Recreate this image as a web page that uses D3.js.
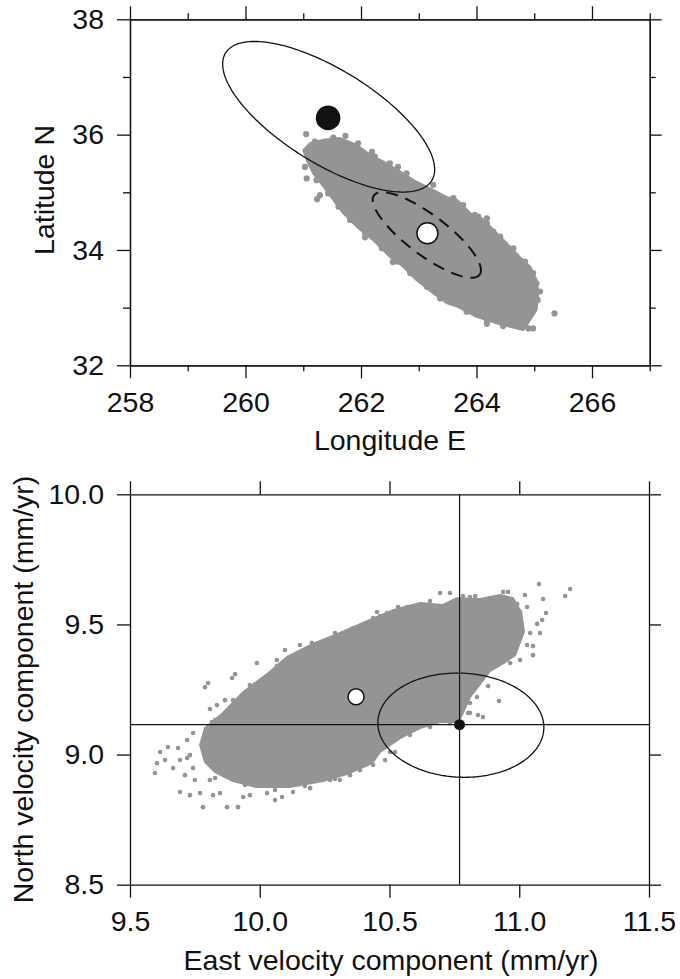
<!DOCTYPE html>
<html><head><meta charset="utf-8">
<script src="https://cdn.jsdelivr.net/npm/d3@7"></script>
<style>
body{margin:0;background:#fff}
svg{display:block}
text{font-family:"Liberation Sans",Arial,Helvetica,sans-serif;fill:#111}
</style>
</head><body>
<svg id="c" width="680" height="979"></svg>
<script>
// ---------- DATA ----------
// Top panel (Longitude / Latitude)
const topXMajor = [258, 260, 262, 264, 266];
const topXMinor = [259, 261, 263, 265, 267];
const topYMajor = [32, 34, 36, 38];
const topYMinor = [33, 35, 37];
// outline of dense sample cloud (lon, lat)
const topCloudOutline = [[261.00,35.73],[261.12,35.85],[261.35,35.91],[261.64,35.94],[261.93,35.82],[262.16,35.65],[262.39,35.53],[262.68,35.36],[262.91,35.21],[263.19,35.07],[263.48,34.92],[263.66,34.87],[263.89,34.64],[264.09,34.55],[264.29,34.35],[264.52,34.12],[264.75,33.88],[264.93,33.71],[265.04,33.48],[265.07,33.25],[265.04,32.96],[264.93,32.79],[264.81,32.61],[264.58,32.67],[264.35,32.73],[264.00,32.84],[263.66,33.02],[263.48,33.08],[263.25,33.25],[262.96,33.48],[262.73,33.71],[262.50,33.88],[262.21,34.17],[261.93,34.40],[261.69,34.64],[261.52,34.87],[261.35,35.10],[261.17,35.33],[261.06,35.56]];
// individual samples along the cloud edge
const topCloudDots = [[261.05,36.01],[261.06,35.24],[261.24,34.88],[261.29,34.95],[265.35,32.90],[264.90,32.64],[264.98,32.64],[265.10,33.28],[265.04,33.42],[265.06,33.13],[264.18,32.72],[263.28,33.35],[264.03,34.58],[264.18,34.55],[264.29,34.32],[261.73,35.98],[262.19,35.70],[262.64,35.44],[262.07,34.22],[262.55,33.79],
[261.20,35.88],[261.52,35.95],[261.95,35.85],[262.24,35.62],[262.50,35.50],[262.79,35.33],[263.25,35.13],[263.60,34.90],[263.77,34.78],[263.97,34.61],[264.18,34.46],[264.41,34.23],[264.64,34.03],[264.84,33.80],[264.98,33.60],
[261.03,35.44],[261.23,35.21],[261.43,34.98],[261.61,34.75],[261.81,34.52],[262.07,34.29],[262.36,34.03],[262.62,33.80],[262.85,33.60],[263.14,33.36],[263.37,33.16],[263.83,32.93],[264.18,32.76],[264.46,32.68]];
// ellipses: [centerLon, centerLat, semiMajor, semiMinor, angleDeg]
const topSolidEllipse = [261.44, 36.31, 2.10, 0.815, -31.8];
const topDashedEllipse = [263.14, 34.26, 1.144, 0.347, -37];
const topBlackPoint = [261.43, 36.29];
const topWhitePoint = [263.15, 34.29];

// Bottom panel (East / North velocity)
const botXTicks = [9.5, 10.0, 10.5, 11.0, 11.5];
const botYTicks = [8.5, 9.0, 9.5, 10.0];
const botCloudOutline = [[9.770,9.037],[9.789,9.102],[9.858,9.160],[9.936,9.240],[10.028,9.309],[10.105,9.375],[10.205,9.425],[10.309,9.467],[10.413,9.513],[10.514,9.555],[10.618,9.582],[10.706,9.575],[10.760,9.601],[10.849,9.598],[10.926,9.613],[10.976,9.601],[11.007,9.548],[11.018,9.471],[10.984,9.382],[10.941,9.352],[10.887,9.321],[10.849,9.271],[10.810,9.221],[10.783,9.160],[10.764,9.125],[10.695,9.125],[10.618,9.102],[10.541,9.063],[10.464,9.010],[10.433,8.967],[10.336,8.925],[10.244,8.898],[10.117,8.875],[9.989,8.875],[9.897,8.898],[9.828,8.933],[9.789,8.971]];
const botCloudDots = [[9.596,8.929],[9.604,8.967],[9.616,9.010],[9.646,9.029],[9.666,8.948],[9.693,8.856],[9.731,8.844],[9.781,8.798],[9.874,8.798],[9.916,8.798],[9.770,8.852],[9.820,8.844],[9.962,8.844],[10.028,8.852],[10.086,8.837],[10.128,8.856],[9.720,9.056],[9.743,9.083],[9.797,9.094],[9.789,9.259],[9.801,9.275],[9.893,9.294],[9.905,9.309],[9.989,9.352],[10.066,9.363],[10.097,9.402],[10.155,9.421],[10.201,9.429],[10.232,9.421],[10.290,9.467],[9.835,9.190],[9.808,9.175],[9.693,8.979],[9.712,8.921],[9.750,8.902],[9.731,8.998],[9.685,9.025],[9.635,8.979],[9.743,8.948],[9.720,8.987],[9.808,8.902],[9.847,8.852],[9.936,8.837],[10.059,8.825],[10.194,8.871],[9.828,9.133],[9.866,9.209],[9.962,9.267],
[10.695,9.621],[10.733,9.621],[10.783,9.609],[10.830,9.609],[10.860,9.586],[10.887,9.601],[10.938,9.625],[10.957,9.625],[11.022,9.613],[11.076,9.655],[11.092,9.598],[11.103,9.544],[11.088,9.517],[11.069,9.502],[11.080,9.467],[11.042,9.467],[11.053,9.417],[11.053,9.382],[11.030,9.421],[10.992,9.578],[11.030,9.567],[11.003,9.548],[11.177,9.609],[11.196,9.636],[10.922,9.206],[10.880,9.263],[10.860,9.144],[10.841,9.152],[10.810,9.160],[10.452,9.548],[10.490,9.544],[10.533,9.567],[10.437,9.525],[10.271,8.902],[10.309,8.902],[10.348,8.921],[10.437,8.960],[10.483,8.979],[10.521,9.010],[10.799,9.286],[10.822,9.259],[10.837,9.221],[10.810,9.198],[10.803,9.160],[11.003,9.363],[10.965,9.352],
[9.816,9.125],[9.897,9.209],[9.982,9.271],[10.066,9.340],[10.155,9.394],[10.259,9.440],[10.359,9.486],[10.464,9.532],[10.568,9.567],[10.656,9.590],[10.810,9.605],
[9.828,8.910],[9.943,8.883],[10.059,8.864],[10.174,8.879],[10.290,8.906],[10.386,8.940],[10.502,9.010],[10.579,9.075],[10.656,9.106],[10.733,9.121]];
const botEllipse = [10.775, 9.113, 0.32, 0.20, -2.5];
const botCross = [10.77, 9.115];
const botBlackPoint = [10.77, 9.115];
const botWhitePoint = [10.371, 9.222];

// ---------- DRAWING ----------
const svg = d3.select("#c");
const GRAY = "#939594", INK = "#111";
const FS = "28.5px";

function ellipsePts(e, n = 180) {
  const [cx, cy, a, b, deg] = e, p = deg * Math.PI / 180;
  return d3.range(n).map(i => {
    const t = 2 * Math.PI * i / n;
    return [cx + a * Math.cos(t) * Math.cos(p) - b * Math.sin(t) * Math.sin(p),
            cy + a * Math.cos(t) * Math.sin(p) + b * Math.sin(t) * Math.cos(p)];
  });
}

function styleAxis(g) {
  g.selectAll("path.domain").attr("stroke", INK).attr("stroke-width", 1.3);
  g.selectAll(".tick line").attr("stroke", INK).attr("stroke-width", 1.3);
  g.selectAll(".tick text").style("font-size", FS).attr("fill", INK)
    .style("font-family", '"Liberation Sans",Arial,Helvetica,sans-serif');
}

function frame(x, y, xMaj, xMin, yMaj, yMin, fmt) {
  const [x0, x1] = x.range(), [y0, y1] = y.range();
  const axes = [
    [d3.axisBottom(x).tickValues(xMaj).tickSize(13).tickPadding(13).tickFormat(fmt), `translate(0,${y0})`],
    [d3.axisTop(x).tickValues(xMaj).tickSize(13).tickFormat(""), `translate(0,${y1})`],
    [d3.axisLeft(y).tickValues(yMaj).tickSize(13).tickPadding(13).tickFormat(fmt), `translate(${x0},0)`],
    [d3.axisRight(y).tickValues(yMaj).tickSize(12).tickFormat(""), `translate(${x1},0)`]
  ];
  if (xMin) {
    axes.push([d3.axisBottom(x).tickValues(xMin).tickSize(6).tickFormat(""), `translate(0,${y0})`]);
    axes.push([d3.axisTop(x).tickValues(xMin).tickSize(6).tickFormat(""), `translate(0,${y1})`]);
  }
  if (yMin) {
    axes.push([d3.axisLeft(y).tickValues(yMin).tickSize(7).tickFormat(""), `translate(${x0},0)`]);
    axes.push([d3.axisRight(y).tickValues(yMin).tickSize(6).tickFormat(""), `translate(${x1},0)`]);
  }
  axes.forEach(([ax, tr]) => {
    svg.append("g").attr("transform", tr).call(ax.tickSizeOuter(0)).call(styleAxis);
  });
}

// ---- Top panel ----
const xT = d3.scaleLinear().domain([258, 267]).range([130, 649.75]);
const yT = d3.scaleLinear().domain([32, 38]).range([365.3, 19.3]);
const lineT = d3.line().x(d => xT(d[0])).y(d => yT(d[1])).curve(d3.curveLinearClosed);

const gT = svg.append("g");
gT.append("path").attr("d", lineT(topCloudOutline))
  .attr("fill", GRAY).attr("stroke", GRAY).attr("stroke-width", 2).attr("stroke-linejoin", "round");
gT.selectAll("circle.cd").data(topCloudDots).join("circle")
  .attr("cx", d => xT(d[0])).attr("cy", d => yT(d[1])).attr("r", 3.1).attr("fill", GRAY);
gT.append("path").attr("d", lineT(ellipsePts(topSolidEllipse)))
  .attr("fill", "none").attr("stroke", INK).attr("stroke-width", 1.3);
gT.append("path").attr("d", lineT(ellipsePts(topDashedEllipse)))
  .attr("fill", "none").attr("stroke", INK).attr("stroke-width", 2).attr("stroke-dasharray", "12,8");
gT.append("circle").attr("cx", xT(topBlackPoint[0])).attr("cy", yT(topBlackPoint[1]))
  .attr("r", 12.3).attr("fill", INK);
gT.append("circle").attr("cx", xT(topWhitePoint[0])).attr("cy", yT(topWhitePoint[1]))
  .attr("r", 10.5).attr("fill", "#fff").attr("stroke", INK).attr("stroke-width", 1.5);

frame(xT, yT, topXMajor, topXMinor, topYMajor, topYMinor, d3.format("d"));

svg.append("text").attr("x", 390).attr("y", 450).attr("text-anchor", "middle")
  .style("font-size", FS).text("Longitude E");
svg.append("text").attr("transform", "translate(53.5,190) rotate(-90)").attr("text-anchor", "middle")
  .style("font-size", FS).text("Latitude N");

// ---- Bottom panel ----
const xB = d3.scaleLinear().domain([9.5, 11.5]).range([130, 649]);
const yB = d3.scaleLinear().domain([8.5, 10.0]).range([884.7, 494.3]);
const lineB = d3.line().x(d => xB(d[0])).y(d => yB(d[1])).curve(d3.curveLinearClosed);

const gB = svg.append("g");
gB.append("path").attr("d", lineB(botCloudOutline))
  .attr("fill", GRAY).attr("stroke", GRAY).attr("stroke-width", 2).attr("stroke-linejoin", "round");
gB.selectAll("circle.cd").data(botCloudDots).join("circle")
  .attr("cx", d => xB(d[0])).attr("cy", d => yB(d[1])).attr("r", 2.3).attr("fill", GRAY);
// crosshair
gB.append("line").attr("x1", xB(botCross[0])).attr("x2", xB(botCross[0]))
  .attr("y1", yB(8.5)).attr("y2", yB(10.0)).attr("stroke", INK).attr("stroke-width", 1.2);
gB.append("line").attr("x1", xB(9.5)).attr("x2", xB(11.5))
  .attr("y1", yB(botCross[1])).attr("y2", yB(botCross[1])).attr("stroke", INK).attr("stroke-width", 1.2);
gB.append("path").attr("d", lineB(ellipsePts(botEllipse)))
  .attr("fill", "none").attr("stroke", INK).attr("stroke-width", 1.3);
gB.append("circle").attr("cx", xB(botBlackPoint[0])).attr("cy", yB(botBlackPoint[1]))
  .attr("r", 5.5).attr("fill", INK);
gB.append("circle").attr("cx", xB(botWhitePoint[0])).attr("cy", yB(botWhitePoint[1]))
  .attr("r", 8).attr("fill", "#fff").attr("stroke", INK).attr("stroke-width", 1.5);

frame(xB, yB, botXTicks, null, botYTicks, null, d3.format(".1f"));

svg.append("text").attr("x", 391).attr("y", 970).attr("text-anchor", "middle")
  .style("font-size", FS).text("East velocity component (mm/yr)");
svg.append("text").attr("transform", "translate(32.5,689.5) rotate(-90)").attr("text-anchor", "middle")
  .style("font-size", FS).text("North velocity component (mm/yr)");
</script>
</body></html>
